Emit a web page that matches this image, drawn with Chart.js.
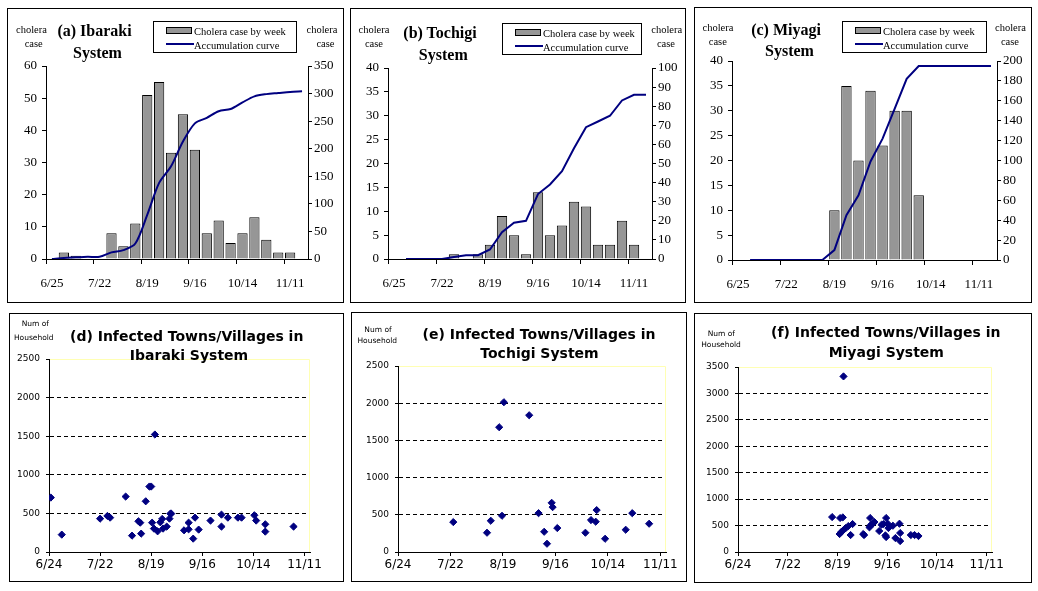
<!DOCTYPE html>
<html>
<head>
<meta charset="utf-8">
<title>Cholera cases by water system</title>
<script src="https://cdn.jsdelivr.net/npm/chart.js@4.4.1/dist/chart.umd.min.js"></script>
<style>
  body { margin: 0; background: #fff; width: 1038px; height: 591px; position: relative; overflow: hidden; }
  canvas { position: absolute; }
  .panel { position: absolute; border: 1px solid #000; box-sizing: border-box; }
  .t { position: absolute; white-space: nowrap; line-height: 1; transform: translate(-50%, -50%); color: #000; }
  .legend { position: absolute; border: 1px solid #000; box-sizing: border-box; background: #fff; }
  .legend .sw { position: absolute; background: #969696; border: 1px solid #000; box-sizing: border-box; }
  .legend .ln { position: absolute; background: #000080; }
  .legend span { position: absolute; white-space: nowrap; line-height: 1; transform: translateY(-50%); font: 10.5px "Liberation Serif", serif; }
</style>
</head>
<body>
<script>
// weekly panels (a)-(c): 22 weeks, labelled every 4th week
const weekTicks = ["6/25", "7/22", "8/19", "9/16", "10/14", "11/11"];

const ibarakiWeekly = [null, 2, 1, null, null, 8, 4, 11, 51, 55, 33, 45, 34, 8, 12, 5, 8, 13, 6, 2, 2, null];
const ibarakiCumulative = [0, 2, 3, 4, 4, 12, 16, 28, 80, 138, 168, 213, 246, 256, 268, 272, 284, 295, 299, 301, 303, 304];

const tochigiWeekly = [null, null, null, null, null, 1, null, 1, 3, 9, 5, 1, 14, 5, 7, 12, 11, 3, 3, 8, 3, null];
const tochigiCumulative = [null, 0, 0, 0, 0, 1, 2, 2, 5, 14, 19, 20, 34, 39, 46, 58, 69, 72, 75, 83, 86, 86];

const miyagiWeekly = [null, null, null, null, null, null, null, null, 10, 35, 20, 34, 23, 30, 30, 13, null, null, null, null, null, null];
const miyagiCumulative = [null, 0, 0, 0, 0, 0, 0, 0, 10, 45, 65, 99, 122, 152, 182, 195, 195, 195, 195, 195, 195, 195];

// scatter panels (d)-(f): days counted from 6/24
const dayTicks = [0, 28, 56, 84, 112, 140];
const dayTickLabels = ["6/24", "7/22", "8/19", "9/16", "10/14", "11/11"];

const ibarakiDays = [1, 7, 28, 32, 33.5, 42, 45.5, 49, 50, 50.5, 53, 55, 56, 56.5, 58, 57.5, 59.5, 61, 62, 62.5, 64.5, 66, 66.5, 67, 74, 76.5, 76.5, 79, 80, 82, 88.5, 94.5, 94.5, 98, 103.5, 105.5, 112.5, 113.5, 118.5, 118.5, 134];
const ibarakiHouseholds = [705, 225, 432, 467, 445, 718, 212, 398, 380, 238, 657, 848, 848, 380, 1522, 303, 268, 385, 428, 303, 329, 432, 497, 497, 281, 294, 380, 173, 445, 290, 407, 484, 329, 445, 445, 445, 476, 407, 359, 264, 329];

const tochigiDays = [29.5, 47.5, 49.5, 54, 55.5, 56.5, 70, 75, 78, 79.5, 82, 82.5, 85, 100, 103, 105.5, 106, 110.5, 121.5, 125, 134];
const tochigiHouseholds = [402, 259, 420, 1677, 487, 2013, 1838, 522, 272, 111, 661, 603, 322, 259, 429, 407, 563, 178, 299, 522, 380];

const miyagiDays = [53, 57.5, 59, 57.2, 58.3, 59.4, 60.7, 62.1, 64.5, 63.4, 70.5, 71, 74.4, 74, 74.9, 75.9, 76.8, 79.5, 80.8, 81.9, 83.4, 84.3, 84.7, 83, 83.4, 87.2, 90.9, 91.3, 88.6, 91.3, 97.3, 99.4, 101.6, 59.4];
const miyagiHouseholds = [661, 643, 655, 340, 384, 416, 453, 491, 529, 321, 340, 321, 643, 466, 516, 535, 567, 397, 516, 529, 643, 535, 453, 314, 283, 497, 535, 359, 264, 207, 321, 321, 302, 3322];

const NAVY = "#000080";
const GRAY = "#969696";
const CLEAR = "rgba(0,0,0,0)";
const weekLabels = ibarakiWeekly.map((_, i) => (i % 4 === 0 ? weekTicks[i / 4] : ""));

function addPanel(box) {
  const canvas = document.createElement("canvas");
  canvas.width = box.w;
  canvas.height = box.h;
  Object.assign(canvas.style, { left: box.l + "px", top: box.t + "px", width: box.w + "px", height: box.h + "px" });
  document.body.appendChild(canvas);
  const frame = document.createElement("div");
  frame.className = "panel";
  Object.assign(frame.style, { left: box.l + "px", top: box.t + "px", width: box.w + "px", height: box.h + "px" });
  document.body.appendChild(frame);
  return canvas;
}

function text(str, x, y, font) {
  const el = document.createElement("div");
  el.className = "t";
  el.textContent = str;
  el.style.left = x + "px";
  el.style.top = y + "px";
  el.style.font = font;
  document.body.appendChild(el);
}

function legend(x, y, w, h) {
  const el = document.createElement("div");
  el.className = "legend";
  Object.assign(el.style, { left: x + "px", top: y + "px", width: w + "px", height: h + "px" });
  el.innerHTML =
    '<div class="sw" style="left:12px;top:5px;width:26px;height:7px"></div>' +
    '<div class="ln" style="left:12px;top:21px;width:28px;height:2px"></div>' +
    '<span style="left:40px;top:9px">Cholera case by week</span>' +
    '<span style="left:40px;top:23px">Accumulation curve</span>';
  document.body.appendChild(el);
}

const serif = (size) => ({ family: "'Liberation Serif', serif", size });
const sans = (size) => ({ family: "'DejaVu Sans', sans-serif", size });

function weeklyChart(box, area, weekly, cumulative, leftMax, leftStep, rightMax, rightStep, tension) {
  const canvas = addPanel(box);
  new Chart(canvas, {
    type: "bar",
    data: {
      labels: weekLabels,
      datasets: [
        { type: "line", data: cumulative, yAxisID: "y1", borderColor: NAVY, borderWidth: 2, pointRadius: 0, tension, order: 0 },
        { type: "bar", data: weekly, yAxisID: "y", backgroundColor: GRAY, borderColor: "#000", borderWidth: 1,
          barPercentage: 0.86, categoryPercentage: 1, order: 1 }
      ]
    },
    options: {
      responsive: false,
      animation: false,
      layout: { padding: { top: area.top, left: 0, right: 0, bottom: 0 } },
      plugins: { legend: { display: false }, tooltip: { enabled: false } },
      scales: {
        x: {
          offset: true,
          afterFit: (s) => { s.height = box.h - area.bottom; s.paddingLeft = 0; s.paddingRight = 0; },
          grid: { offset: true, drawOnChartArea: false, tickLength: 5,
                  color: (c) => (c.index !== undefined && c.index % 4 === 0 ? "#000" : CLEAR) },
          border: { color: "#000" },
          ticks: { autoSkip: false, maxRotation: 0, padding: 12, color: "#000", font: serif(13) }
        },
        y: {
          position: "left", min: 0, max: leftMax,
          afterFit: (s) => { s.width = area.left; },
          grid: { drawOnChartArea: false, tickLength: 4, color: "#000" },
          border: { color: "#000" },
          ticks: { stepSize: leftStep, padding: 5, color: "#000", font: serif(13) }
        },
        y1: {
          position: "right", min: 0, max: rightMax,
          afterFit: (s) => { s.width = box.w - area.right; },
          grid: { drawOnChartArea: false, tickLength: 4, color: "#000" },
          border: { color: "#000" },
          ticks: { stepSize: rightStep, padding: 2, color: "#000", font: serif(13) }
        }
      }
    }
  });
}

const plotFrame = {
  id: "plotFrame",
  beforeDatasetsDraw(chart) {
    const { ctx, chartArea: a } = chart;
    ctx.save();
    ctx.strokeStyle = "#ffffb4";
    ctx.lineWidth = 1;
    ctx.beginPath();
    ctx.moveTo(a.left + 1, a.top + 0.5);
    ctx.lineTo(a.right - 0.5, a.top + 0.5);
    ctx.lineTo(a.right - 0.5, a.bottom);
    ctx.stroke();
    ctx.restore();
  }
};

function scatterChart(box, area, days, households, yMax) {
  const canvas = addPanel(box);
  new Chart(canvas, {
    type: "scatter",
    data: {
      datasets: [{
        data: days.map((d, i) => ({ x: d, y: households[i] })),
        pointStyle: "rectRot", radius: 3.6, backgroundColor: NAVY, borderColor: NAVY, borderWidth: 1
      }]
    },
    options: {
      responsive: false,
      animation: false,
      layout: { padding: { top: area.top, left: 0, right: box.w - area.right, bottom: 0 } },
      plugins: { legend: { display: false }, tooltip: { enabled: false } },
      scales: {
        x: {
          type: "linear", min: 0, max: 143,
          afterBuildTicks: (s) => { s.ticks = dayTicks.map((v) => ({ value: v })); },
          afterFit: (s) => { s.height = box.h - area.bottom; s.paddingLeft = 0; s.paddingRight = 0; },
          grid: { drawOnChartArea: false, tickLength: 4, color: "#000" },
          border: { color: "#000" },
          ticks: { callback: (v) => dayTickLabels[dayTicks.indexOf(v)], maxRotation: 0, padding: 2, color: "#000", font: sans(12) }
        },
        y: {
          min: 0, max: yMax,
          afterFit: (s) => { s.width = area.left; },
          grid: {
            color: (c) => (c.tick && c.tick.value > 0 && c.tick.value < yMax ? "#000" : CLEAR),
            tickColor: "#000", tickLength: 3, tickBorderDash: []
          },
          border: { color: "#000", dash: [4, 3] },
          ticks: { stepSize: 500, padding: 6, color: "#000", font: sans(9), callback: (v) => String(v) }
        }
      }
    },
    plugins: [plotFrame]
  });
}

// (a) Ibaraki
weeklyChart({ l: 7, t: 8, w: 337, h: 295 }, { left: 39, right: 301, top: 58, bottom: 251 },
  ibarakiWeekly, ibarakiCumulative, 60, 10, 350, 50, 0.3);
// (b) Tochigi
weeklyChart({ l: 350, t: 8, w: 336, h: 295 }, { left: 38, right: 302, top: 60, bottom: 251 },
  tochigiWeekly, tochigiCumulative, 40, 5, 100, 10, 0);
// (c) Miyagi
weeklyChart({ l: 694, t: 7, w: 338, h: 296 }, { left: 38, right: 303, top: 54, bottom: 253 },
  miyagiWeekly, miyagiCumulative, 40, 5, 200, 20, 0);

// (d)-(f) households per infected town/village
scatterChart({ l: 9, t: 313, w: 335, h: 269 }, { left: 40, right: 301, top: 46, bottom: 239 },
  ibarakiDays, ibarakiHouseholds, 2500);
scatterChart({ l: 351, t: 312, w: 336, h: 270 }, { left: 47, right: 315, top: 54, bottom: 240 },
  tochigiDays, tochigiHouseholds, 2500);
scatterChart({ l: 694, t: 313, w: 338, h: 270 }, { left: 44, right: 298, top: 54, bottom: 239 },
  miyagiDays, miyagiHouseholds, 3500);

// titles and axis captions
const titleTop = "bold 16px 'Liberation Serif', serif";
const capTop = "10.5px 'Liberation Serif', serif";
const titleBottom = "bold 14px 'DejaVu Sans', sans-serif";
const capBottom = "7.5px 'DejaVu Sans', sans-serif";

text("(a) Ibaraki", 94.5, 31, titleTop);
text("System", 97.5, 52.5, titleTop);
text("cholera", 31.5, 29.3, capTop);
text("case", 33.7, 42.7, capTop);
text("cholera", 322, 29.3, capTop);
text("case", 325.5, 42.7, capTop);
legend(153, 21, 144, 32);

text("(b) Tochigi", 440, 33, titleTop);
text("System", 443.3, 54.5, titleTop);
text("cholera", 374, 29.3, capTop);
text("case", 374, 43, capTop);
text("cholera", 666.7, 29.3, capTop);
text("case", 666, 43, capTop);
legend(502, 23, 140, 32);

text("(c) Miyagi", 786, 29.5, titleTop);
text("System", 789.5, 51, titleTop);
text("cholera", 718, 26.7, capTop);
text("case", 717.8, 41, capTop);
text("cholera", 1010.5, 26.7, capTop);
text("case", 1010, 41, capTop);
legend(842, 21, 145, 32);

text("(d) Infected Towns/Villages in", 186.7, 335.8, titleBottom);
text("Ibaraki System", 189, 355, titleBottom);
text("Num of", 35.3, 323.3, capBottom);
text("Household", 33.8, 336.7, capBottom);

text("(e) Infected Towns/Villages in", 539, 334, titleBottom);
text("Tochigi System", 539.5, 353, titleBottom);
text("Num of", 378, 329, capBottom);
text("Household", 377.3, 340, capBottom);

text("(f) Infected Towns/Villages in", 885.8, 332, titleBottom);
text("Miyagi System", 886.3, 351.5, titleBottom);
text("Num of", 721.3, 333.3, capBottom);
text("Household", 721, 344, capBottom);
</script>
</body>
</html>
